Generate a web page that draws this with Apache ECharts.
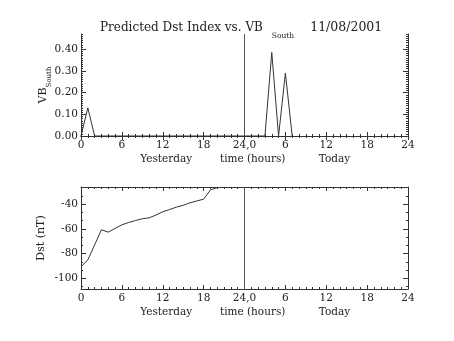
<!DOCTYPE html>
<html><head><meta charset="utf-8">
<script src="https://cdn.jsdelivr.net/npm/echarts@6/dist/echarts.min.js"></script>
<style>html,body{margin:0;padding:0;background:#fff}#c{width:454px;height:341px}</style>
</head><body><div id="c"></div>
<script>
// ---- data ----
const vbHours = [0,1,2,3,4,5,6,7,8,9,10,11,12,13,14,15,16,17,18,19,20,21,22,23,24,25,26,27,28,29,30,31];
const vbSouth = [0,0.13,0,0,0,0,0,0,0,0,0,0,0,0,0,0,0,0,0,0,0,0,0,0,0,0,0,0,0.385,0,0.29,0];
const dstHours = [0,1,2,3,4,5,6,7,8,9,10,11,12,13,14,15,16,17,18,19,20];
const dst = [-90.6,-85.2,-73,-60.8,-62.7,-59.7,-56.8,-54.9,-53.3,-51.9,-51.1,-48.9,-46.2,-44.4,-42.5,-41,-39,-37.5,-36,-28.6,-26.6];
const vbTicks = [0,0.1,0.2,0.3,0.4];
const dstTicks = [-100,-80,-60,-40];
const xTitleParts = ['Yesterday','time (hours)','Today'];
const xTitleHours = [12.5,25.2,37.2];
const titleMain = 'Predicted Dst Index vs. VB';
const titleSub = 'South';
const titleDate = '11/08/2001';
const boundaryHour = 24;

// ---- layout / style ----
const FONT = 'DejaVu Serif';
const INK = '#333';
const vbRange = [0, 0.47];
const dstRange = [-108.7, -26.2];
const vbMinor = []; for (let i = 0; i <= 47; i++) vbMinor.push(+(i*0.01).toFixed(2));
const dstMinor = []; for (let v = -100 - 20/3; v <= -26.2; v += 20/3) dstMinor.push(v);

const grids = [
  {left: 81, top: 34, width: 327, height: 102},
  {left: 81, top: 187, width: 327, height: 102}
];

function xFmt(v){ if (v === 24) return '24,0'; if (v > 24) return String(v-24); return String(v); }

function xAxes(gi){
  const base = {gridIndex: gi, type: 'value', min: 0, max: 48, interval: 6,
    splitLine:{show:false}, axisLine:{lineStyle:{color:INK, width:1}}};
  return [
    Object.assign({}, base, {position:'bottom',
      axisTick:{inside:true, length:4, lineStyle:{color:INK}},
      minorTick:{show:true, splitNumber:6, length:2, lineStyle:{color:INK}},
      axisLabel:{formatter:xFmt, fontFamily:FONT, fontSize:10.5, color:'#222', margin:4}}),
    Object.assign({}, base, {position:'top',
      axisTick:{inside:true, length:4, lineStyle:{color:INK}},
      minorTick:{show:true, splitNumber:6, length:2, lineStyle:{color:INK}},
      axisLabel:{show:false}})
  ];
}

function yAxes(gi, range, majors, minors, labelFmt, name, nameGap, rich){
  const base = {gridIndex: gi, type:'value', min: range[0], max: range[1],
    splitLine:{show:false}, axisLine:{show:true, lineStyle:{color:INK, width:1}}};
  const res = [];
  ['left','right'].forEach(pos => {
    res.push(Object.assign({}, base, {position:pos,
      name: pos==='left' ? name : '', nameLocation:'middle', nameRotate:90, nameGap:nameGap,
      nameMoveOverlap:false,
      nameTextStyle:{fontFamily:FONT, fontSize:11, color:'#222', rich:rich},
      axisTick:{inside:true, length:5, customValues:majors, lineStyle:{color:INK}},
      axisLabel:{show: pos==='left', customValues:majors, formatter:labelFmt,
        fontFamily:FONT, fontSize:10.5, color:'#222', margin:3}}));
    res.push(Object.assign({}, base, {position:pos, axisLine:{show:false},
      axisTick:{inside:true, length:2, customValues:minors, lineStyle:{color:INK}},
      axisLabel:{show:false}}));
  });
  return res;
}

const chart = echarts.init(document.getElementById('c'), null, {renderer:'canvas'});
const xA = xAxes(0).concat(xAxes(1));
const yA = yAxes(0, vbRange, vbTicks, vbMinor, v => v.toFixed(2), '{m|VB}{s|South}', 28,
    {m:{fontFamily:FONT, fontSize:11, lineHeight:20, color:'#222'},
     s:{fontFamily:FONT, fontSize:7, lineHeight:8, verticalAlign:'bottom', color:'#222'}})
  .concat(yAxes(1, dstRange, dstTicks, dstMinor, v => String(v), 'Dst (nT)', 34, {}));

function vline(){ return {silent:true, symbol:['none','none'], label:{show:false},
  lineStyle:{type:'solid', color:'#555', width:1}, emphasis:{disabled:true},
  data:[{xAxis:boundaryHour}]}; }

chart.setOption({
  animation:false,
  title:{text:'{m|'+titleMain+'}{s|'+titleSub+'}{d|'+titleDate+'}', left:95, top:11,
    textStyle:{fontWeight:'normal', rich:{
      m:{fontFamily:FONT, fontSize:12, fontWeight:'normal', lineHeight:24, color:'#222'},
      s:{fontFamily:FONT, fontSize:7.5, fontWeight:'normal', lineHeight:8, verticalAlign:'bottom', color:'#222', padding:[0,0,0,9]},
      d:{fontFamily:FONT, fontSize:12.5, fontWeight:'normal', lineHeight:24, color:'#222', padding:[0,0,0,16]}}}},
  grid:grids,
  xAxis:xA,
  yAxis:yA,
  series:[
    {type:'line', xAxisIndex:0, yAxisIndex:0, data: vbHours.map((h,i)=>[h, vbSouth[i]]),
     showSymbol:false, lineStyle:{color:INK, width:1}, markLine:vline()},
    {type:'line', xAxisIndex:2, yAxisIndex:4, data: dstHours.map((h,i)=>[h, dst[i]]),
     showSymbol:false, lineStyle:{color:INK, width:1}, markLine:vline()}
  ]
});

const g = [];
[0,1].forEach(gi => {
  xTitleParts.forEach((t,i) => {
    const p = chart.convertToPixel({gridIndex:gi}, [xTitleHours[i], gi===0 ? vbRange[0] : dstRange[0]]);
    g.push({type:'text', x:p[0], y:p[1]+23, style:{text:t, align:'center', verticalAlign:'middle',
      font:'10.5px "DejaVu Serif"', fill:'#222'}});
  });
});
chart.setOption({graphic:g});
</script></body></html>
